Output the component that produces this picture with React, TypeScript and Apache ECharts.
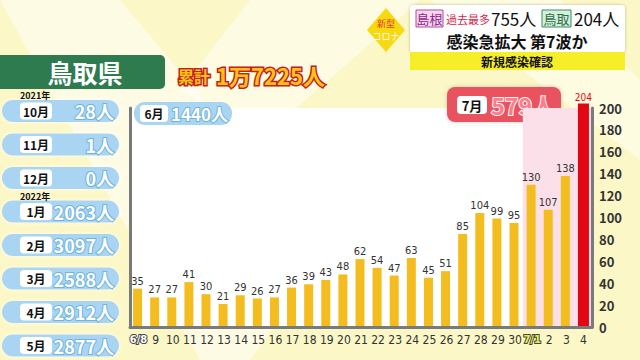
import React, { useEffect, useRef } from "react";
import * as echarts from "echarts";

const days = ["6/8","9","10","11","12","13","14","15","16","17","18","19","20","21","22","23","24","25","26","27","28","29","30","7/1","2","3","4"];
const cases = [35,27,27,41,30,21,29,26,27,36,39,43,48,62,54,47,63,45,51,85,104,99,95,130,107,138,204];
const julyStartIndex = 23;
const leftMonths = ["10月","11月","12月","1月","2月","3月","4月","5月"];
const leftValues = ["28人","1人","0人","2063人","3097人","2588人","2912人","2877人"];
const yTicks = { min: 0, max: 200, interval: 20 };

const FONT = '"Noto Sans CJK JP", "Noto Sans", sans-serif';
const NARROW = '"Liberation Sans Narrow", "DejaVu Sans Condensed", "Roboto", sans-serif';

export default function App() {
  const ref = useRef<HTMLDivElement>(null);
  useEffect(() => {
    const chart = echarts.init(ref.current!, null, { renderer: "svg" });
    const last = cases.length - 1;
    const mainData = cases.map((v, i) => (i === last ? "-" : v));
    const redData = cases.map((v, i) => (i === last ? v : "-"));
    const pinkData = cases.map((_, i) => (i >= julyStartIndex ? yTicks.max : "-"));

    const graphics: any[] = [];
    graphics.push(
      { type: "polygon", z: -10, shape: { points: [[0, 0], [120, 0], [330, 250], [250, 360], [200, 360]] }, style: { fill: "rgba(255,255,255,0.55)" } },
      { type: "polygon", z: -10, shape: { points: [[250, 0], [420, 0], [260, 140], [180, 90]] }, style: { fill: "rgba(255,255,255,0.5)" } },
      { type: "polygon", z: -10, shape: { points: [[430, 0], [560, 0], [640, 80], [640, 160]] }, style: { fill: "rgba(255,255,255,0.45)" } }
    );
    graphics.push(
      { type: "rect", shape: { x: -6, y: 55, width: 171, height: 34, r: 5 }, style: { fill: "#2e7b4f" } },
      { type: "text", x: 85, y: 72, style: { text: "鳥取県", fill: "#fff", font: `bold 25px ${FONT}`, align: "center", verticalAlign: "middle" } },
      { type: "text", x: 178, y: 76, style: { text: "累計", fill: "#ffc21a", stroke: "#c2211b", lineWidth: 3, font: `bold 16px ${FONT}`, align: "left", verticalAlign: "middle" } },
      { type: "text", x: 216, y: 75, style: { text: "1万7225人", fill: "#ffc21a", stroke: "#c2211b", lineWidth: 3, font: `bold 22px ${FONT}`, align: "left", verticalAlign: "middle" } }
    );
    leftMonths.forEach((m, i) => {
      const cy = 111 + i * 33.5;
      graphics.push(
        { type: "rect", shape: { x: 2, y: cy - 11, width: 117, height: 22, r: 11 }, style: { fill: "#a9d5f2", shadowBlur: 4, shadowColor: "rgba(255,255,255,0.9)" } },
        { type: "rect", shape: { x: 20, y: cy - 8.5, width: 32, height: 17, r: 4 }, style: { fill: "#fff" } },
        { type: "text", x: 36, y: cy, style: { text: m, fill: "#111", font: `bold 12px ${FONT}`, align: "center", verticalAlign: "middle" } },
        { type: "text", x: 114, y: cy, style: { text: leftValues[i], fill: "#fff", stroke: "#6fb3e0", lineWidth: 2, font: `bold 18px ${FONT}`, align: "right", verticalAlign: "middle" } }
      );
    });
    graphics.push(
      { type: "text", x: 20, y: 95, style: { text: "2021年", fill: "#111", font: `bold 9px ${FONT}`, align: "left", verticalAlign: "middle" } },
      { type: "text", x: 20, y: 196, style: { text: "2022年", fill: "#111", font: `bold 9px ${FONT}`, align: "left", verticalAlign: "middle" } }
    );
    graphics.push(
      { type: "rect", shape: { x: 134, y: 102, width: 98, height: 23, r: 11 }, style: { fill: "#a9d5f2" } },
      { type: "rect", shape: { x: 140, y: 105, width: 28, height: 17, r: 4 }, style: { fill: "#fff" } },
      { type: "text", x: 154, y: 113.5, style: { text: "6月", fill: "#111", font: `bold 12px ${FONT}`, align: "center", verticalAlign: "middle" } },
      { type: "text", x: 228, y: 113.5, style: { text: "1440人", fill: "#fff", stroke: "#6fb3e0", lineWidth: 2, font: `bold 17px ${FONT}`, align: "right", verticalAlign: "middle" } }
    );
    graphics.push(
      { type: "rect", shape: { x: 447, y: 87, width: 114, height: 35, r: 8 }, style: { fill: "#e9525f", shadowBlur: 4, shadowColor: "rgba(0,0,0,0.2)" } },
      { type: "rect", shape: { x: 457, y: 96, width: 30, height: 18, r: 4 }, style: { fill: "#fff" } },
      { type: "text", x: 472, y: 105, style: { text: "7月", fill: "#111", font: `bold 13px ${FONT}`, align: "center", verticalAlign: "middle" } },
      { type: "text", x: 555, y: 105, style: { text: "579人", fill: "#ff7b8a", stroke: "#fff", lineWidth: 2, font: `bold 23px ${FONT}`, align: "right", verticalAlign: "middle" } }
    );
    graphics.push(
      { type: "polygon", shape: { points: [[386, 8], [405, 30], [386, 52], [367, 30]] }, style: { fill: "#f6d90e" } },
      { type: "text", x: 386, y: 23, style: { text: "新型", fill: "#e8382f", font: `9px ${FONT}`, align: "center", verticalAlign: "middle" } },
      { type: "text", x: 386, y: 36, style: { text: "コロナ", fill: "#fff", font: `9px ${FONT}`, align: "center", verticalAlign: "middle" } },
      { type: "rect", shape: { x: 410, y: 5, width: 215, height: 48, r: 4 }, style: { fill: "#fff", shadowBlur: 3, shadowColor: "rgba(0,0,0,0.25)" } },
      { type: "rect", shape: { x: 410, y: 52, width: 215, height: 18 }, style: { fill: "#f7ee2a" } },
      { type: "text", x: 517, y: 61, style: { text: "新規感染確認", fill: "#111", font: `bold 12px ${FONT}`, align: "center", verticalAlign: "middle" } },
      { type: "rect", shape: { x: 416, y: 10, width: 27, height: 17 }, style: { fill: "#f8d6ef", stroke: "#b04aa0", lineWidth: 1 } },
      { type: "text", x: 429.5, y: 18.5, style: { text: "島根", fill: "#8a2a8a", font: `13px ${FONT}`, align: "center", verticalAlign: "middle" } },
      { type: "text", x: 446, y: 19, style: { text: "過去最多", fill: "#d9264a", font: `11px ${FONT}`, align: "left", verticalAlign: "middle" } },
      { type: "text", x: 491, y: 18, style: { text: "755人", fill: "#111", font: `17px ${FONT}`, align: "left", verticalAlign: "middle" } },
      { type: "rect", shape: { x: 542, y: 10, width: 29, height: 17 }, style: { fill: "#d4efdc", stroke: "#3d8a5a", lineWidth: 1 } },
      { type: "text", x: 556.5, y: 18.5, style: { text: "鳥取", fill: "#2d6e48", font: `13px ${FONT}`, align: "center", verticalAlign: "middle" } },
      { type: "text", x: 574, y: 18, style: { text: "204人", fill: "#111", font: `17px ${FONT}`, align: "left", verticalAlign: "middle" } },
      { type: "text", x: 517, y: 41, style: { text: "感染急拡大 第7波か", fill: "#111", font: `bold 16px ${FONT}`, align: "center", verticalAlign: "middle" } }
    );

    chart.setOption({
      animation: false,
      backgroundColor: "#fcf7c6",
      textStyle: { fontFamily: FONT },
      grid: { left: 130, right: 48, top: 108, bottom: 33, show: true, backgroundColor: "#ffffff", borderWidth: 0 },
      xAxis: [
        {
          type: "category",
          data: days,
          axisLine: { lineStyle: { color: "#7a7a7a", width: 3 } },
          axisTick: { show: false },
          axisLabel: {
            interval: 0,
            margin: 7,
            color: "#333",
            fontSize: 12,
            fontFamily: NARROW,
            formatter: (v: string) => (v === "6/8" ? "{a|6/8}" : v === "7/1" ? "{b|7/1}" : v),
            rich: {
              a: { color: "#fff", textBorderColor: "#444", textBorderWidth: 2, fontSize: 11, fontWeight: "bold", fontFamily: NARROW },
              b: { color: "#e8f040", textBorderColor: "#444", textBorderWidth: 2, fontSize: 11, fontWeight: "bold", fontFamily: NARROW },
            },
          },
          splitLine: { show: false },
          z: 5,
        },
        { type: "category", data: days, show: false },
      ],
      yAxis: [
        {
          type: "value",
          position: "right",
          min: yTicks.min,
          max: yTicks.max,
          interval: yTicks.interval,
          axisLine: { show: true, lineStyle: { color: "#7a7a7a", width: 3 } },
          axisTick: { show: false },
          splitLine: { show: false },
          axisLabel: { color: "#333", fontSize: 13, fontWeight: "bold", margin: 7, align: "left" },
          z: 5,
        },
        {
          type: "value",
          position: "left",
          min: yTicks.min,
          max: yTicks.max,
          interval: yTicks.interval,
          axisLine: { show: true, lineStyle: { color: "#7a7a7a", width: 3 } },
          axisTick: { show: false },
          splitLine: { show: false },
          axisLabel: { show: false },
          z: 5,
        },
      ],
      series: [
        {
          type: "bar",
          xAxisIndex: 1,
          data: pinkData,
          barWidth: 18.5,
          silent: true,
          itemStyle: { color: "#fbe0ea", borderWidth: 0 },
          z: 1,
        },
        {
          type: "bar",
          data: mainData,
          barWidth: 9,
          itemStyle: { color: "#f3bd1f" },
          label: { show: true, position: "top", color: "#333", fontSize: 11, distance: 2, fontFamily: NARROW },
          z: 3,
        },
        {
          type: "bar",
          data: redData,
          barWidth: 11,
          barGap: "-100%",
          clip: false,
          itemStyle: { color: "#e30613" },
          label: { show: true, position: "top", color: "#e30613", fontSize: 10, distance: 1, fontFamily: NARROW },
          z: 4,
        },
      ],
      graphic: graphics,
    });
    return () => chart.dispose();
  }, []);
  return <div ref={ref} style={{ width: 640, height: 360, position: "fixed", left: 0, top: 0 }} />;
}
